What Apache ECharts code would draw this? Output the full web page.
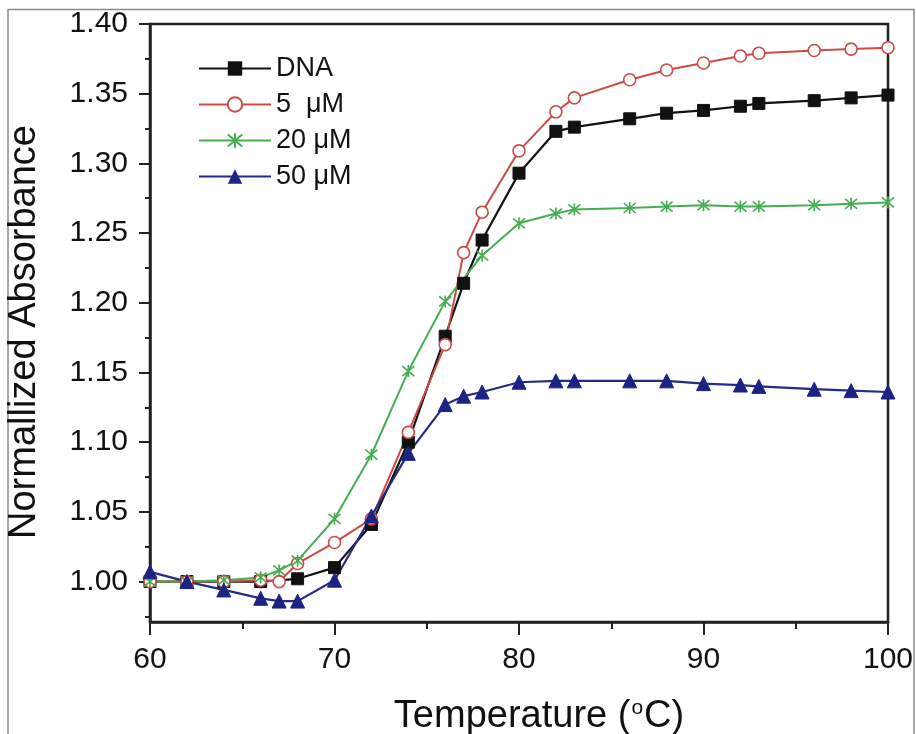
<!DOCTYPE html>
<html>
<head>
<meta charset="utf-8">
<script src="https://cdn.jsdelivr.net/npm/echarts@6/dist/echarts.min.js"></script>
<style>
  html, body { margin: 0; padding: 0; background: #fff; }
  #chart { width: 916px; height: 734px; }
</style>
</head>
<body>
<div id="chart"></div>
<script>
// Melting curves: normalized absorbance vs temperature
const seriesNames = ['DNA', '5  μM', '20 μM', '50 μM'];

const tempDNA = [60, 62, 64, 66, 68, 70, 72, 74, 76, 77, 78, 80, 82, 83, 86, 88, 90, 92, 93, 96, 98, 100];
const absDNA  = [1.000, 1.000, 1.000, 1.000, 1.002, 1.010, 1.041, 1.100, 1.176, 1.214, 1.245, 1.293,
                 1.323, 1.326, 1.332, 1.336, 1.338, 1.341, 1.343, 1.345, 1.347, 1.349];

const temp5 = [60, 62, 64, 66, 67, 68, 70, 72, 74, 76, 77, 78, 80, 82, 83, 86, 88, 90, 92, 93, 96, 98, 100];
const abs5  = [1.000, 1.000, 1.000, 1.001, 1.000, 1.013, 1.028, 1.045, 1.107, 1.170, 1.236, 1.265,
               1.309, 1.337, 1.347, 1.360, 1.367, 1.372, 1.377, 1.379, 1.381, 1.382, 1.383];

const temp20 = [60, 62, 64, 66, 67, 68, 70, 72, 74, 76, 78, 80, 82, 83, 86, 88, 90, 92, 93, 96, 98, 100];
const abs20  = [1.000, 1.000, 1.001, 1.003, 1.008, 1.015, 1.045, 1.091, 1.151, 1.201, 1.234, 1.257,
                1.264, 1.267, 1.268, 1.269, 1.270, 1.269, 1.269, 1.270, 1.271, 1.272];

const temp50 = [60, 62, 64, 66, 67, 68, 70, 72, 74, 76, 77, 78, 80, 82, 83, 86, 88, 90, 92, 93, 96, 98, 100];
const abs50  = [1.007, 1.000, 0.994, 0.988, 0.986, 0.986, 1.001, 1.047, 1.092, 1.127, 1.133, 1.136,
                1.143, 1.144, 1.144, 1.144, 1.144, 1.142, 1.141, 1.140, 1.138, 1.137, 1.136];

const xTicks = [60, 70, 80, 90, 100];
const yTickLabels = ['1.00', '1.05', '1.10', '1.15', '1.20', '1.25', '1.30', '1.35', '1.40'];

// plot frame geometry (pixels)
const W = 916, H = 734;
const plotLeft = 150, plotRight = 888, plotTop = 24, plotBottom = 622;
const yMin = 0.971, yMax = 1.40;
const xMin = 60, xMax = 100;
const yPix = v => plotTop + (yMax - v) / (yMax - yMin) * (plotBottom - plotTop);

const FONT = 'Liberation Sans, Arial, Helvetica, sans-serif';
const INK = '#111';

const pairs = (xs, ys) => xs.map((x, i) => [x, ys[i]]);

const starPath = 'path://M0,0L10,10M10,0L0,10M5,-1L5,11';

const chart = echarts.init(document.getElementById('chart'), null, { renderer: 'canvas' });

const majorY = yTickLabels.map(Number);

const fixedGrid = (top, bottom, extra) => Object.assign({
  left: plotLeft, right: W - plotRight, top: top, bottom: bottom,
  containLabel: false, outerBoundsMode: 'none'
}, extra || {});

chart.setOption({
  backgroundColor: '#fff',
  animation: false,
  graphic: [{
    type: 'rect',
    shape: { x: 8, y: 9.5, width: 906, height: 740 },
    style: { fill: 'none', stroke: '#8a8a8a', lineWidth: 1.5 },
    silent: true
  }],
  legend: {
    data: seriesNames,
    orient: 'vertical',
    left: 193,
    top: 50,
    itemWidth: 72,
    itemHeight: 18,
    itemGap: 9,
    textStyle: { fontFamily: FONT, fontSize: 27, color: INK, padding: [0, 0, 0, 0] }
  },
  grid: [
    // data grid, also draws the top/right frame
    fixedGrid(plotTop, H - plotBottom, { show: true, borderColor: '#222', borderWidth: 2.5, backgroundColor: 'transparent' }),
    // major y ticks + labels: 1.00 .. 1.40
    fixedGrid(yPix(1.40), H - yPix(1.00)),
    // minor y ticks: 0.975 .. 1.375
    fixedGrid(yPix(1.375), H - yPix(0.975))
  ],
  xAxis: [
    {
      gridIndex: 0, type: 'value', min: xMin, max: xMax, interval: 10,
      axisLine: { show: true, onZero: false, lineStyle: { color: '#222', width: 2.5 } },
      axisTick: { show: true, inside: false, length: 13, lineStyle: { color: '#222', width: 2 } },
      minorTick: { show: true, splitNumber: 2, length: 7, lineStyle: { color: '#222', width: 2 } },
      splitLine: { show: false },
      axisLabel: {
        margin: 23, fontFamily: FONT, fontSize: 30, color: INK,
        formatter: v => (xTicks.includes(v) ? String(v) : '')
      },
      name: 'Temperature ({sup|o}C)',
      nameLocation: 'middle',
      nameGap: 76,
      nameTextStyle: {
        fontFamily: FONT, fontSize: 38, color: INK, padding: [0, 0, 0, 40],
        rich: { sup: { fontFamily: FONT, fontSize: 21, color: INK, verticalAlign: 'top', padding: [0, 1, 16, 1] } }
      }
    },
    { gridIndex: 1, type: 'value', min: xMin, max: xMax, show: false },
    { gridIndex: 2, type: 'value', min: xMin, max: xMax, show: false }
  ],
  yAxis: [
    {
      gridIndex: 0, type: 'value', min: yMin, max: yMax,
      axisLine: { show: true, onZero: false, lineStyle: { color: '#222', width: 2.5 } },
      axisTick: { show: false },
      axisLabel: { show: false },
      splitLine: { show: false },
      name: 'Normallized Absorbance',
      nameLocation: 'middle',
      nameGap: 106,
      nameTextStyle: { fontFamily: FONT, fontSize: 38, color: INK, padding: [0, 18, 0, 0] }
    },
    {
      gridIndex: 1, type: 'value', min: 1.00, max: 1.40, interval: 0.05,
      axisLine: { show: false },
      axisTick: { show: true, inside: false, length: 11, lineStyle: { color: '#222', width: 2 } },
      splitLine: { show: false },
      axisLabel: {
        margin: 22, fontFamily: FONT, fontSize: 30, color: INK,
        formatter: v => {
          const hit = majorY.findIndex(m => Math.abs(m - v) < 1e-6);
          return hit >= 0 ? yTickLabels[hit] : '';
        }
      }
    },
    {
      gridIndex: 2, type: 'value', min: 0.975, max: 1.375, interval: 0.05,
      axisLine: { show: false },
      axisTick: { show: true, inside: false, length: 5, lineStyle: { color: '#222', width: 2 } },
      splitLine: { show: false },
      axisLabel: { show: false }
    }
  ],
  series: [
    {
      name: seriesNames[0], type: 'line', xAxisIndex: 0, yAxisIndex: 0,
      data: pairs(tempDNA, absDNA),
      symbol: 'rect', symbolSize: 12,
      lineStyle: { color: '#111', width: 2.2 },
      itemStyle: { color: '#111', borderColor: '#111' }
    },
    {
      name: seriesNames[1], type: 'line', xAxisIndex: 0, yAxisIndex: 0,
      data: pairs(temp5, abs5),
      symbol: 'circle', symbolSize: 12,
      lineStyle: { color: '#cd4a45', width: 2 },
      itemStyle: { color: '#fff', borderColor: '#cd4a45', borderWidth: 1.6 }
    },
    {
      name: seriesNames[2], type: 'line', xAxisIndex: 0, yAxisIndex: 0,
      data: pairs(temp20, abs20),
      symbol: starPath, symbolSize: 12,
      lineStyle: { color: '#45ad52', width: 2 },
      itemStyle: { color: '#45ad52', borderColor: '#45ad52', borderWidth: 1.6 }
    },
    {
      name: seriesNames[3], type: 'line', xAxisIndex: 0, yAxisIndex: 0,
      data: pairs(temp50, abs50),
      symbol: 'triangle', symbolSize: 14,
      lineStyle: { color: '#252b86', width: 2.2 },
      itemStyle: { color: '#1d2385', borderColor: '#1d2385' }
    }
  ]
});
</script>
</body>
</html>
